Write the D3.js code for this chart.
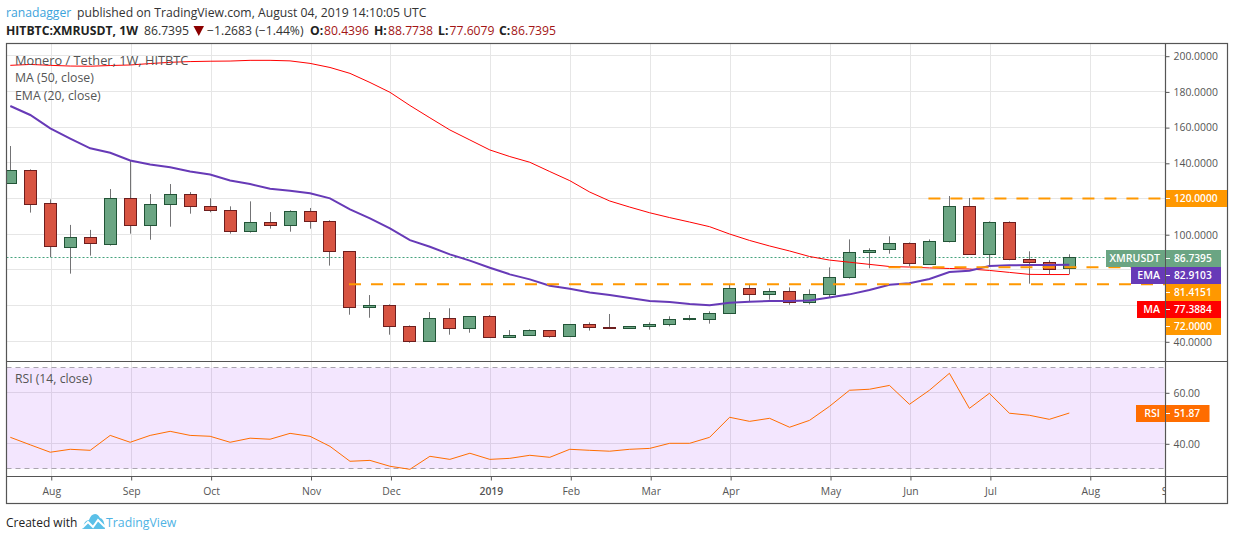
<!DOCTYPE html>
<html>
<head>
<meta charset="utf-8">
<title>XMRUSDT</title>
<script src="https://cdnjs.cloudflare.com/ajax/libs/d3/7.8.5/d3.min.js"></script>
<style>
	html, body { margin: 0; padding: 0; background: #fff; }
	svg { display: block; }
	text { font-family: "Open Sans", sans-serif; }
</style>
</head>
<body>
<div id="chart"></div>
<script>
"use strict";

// weekly candles
const opens = [128.5, 135.8, 117.3, 92.6, 98.3, 94.3, 120.1, 105, 116.7, 122.3, 115.6, 113.4, 101.6, 106.6, 105, 112.8, 107.2, 90.4, 59, 60.1,
	48.4, 40, 52.8, 47.3, 54, 42.2, 43.3, 46.1, 42.8, 49.5, 47.8, 47.3, 48.4, 49.5, 52.3, 52.3, 55.7, 69.7, 66.3, 68,
	61.8, 66.3, 75.8, 89.8, 91.5, 94.9, 83.1, 96, 115.6, 88.7, 106.6, 85.9, 84.2, 80.44];
const highs = [149.4, 136.3, 119.5, 105.2, 102.4, 125.3, 141.6, 122.5, 128.1, 123.6, 120.1, 115.6, 118.4, 112.4, 113.4, 114.7, 107.8, 90.4, 65.9, 60.7,
	48.9, 56.4, 58.5, 54, 54.7, 46.3, 46.7, 46.1, 49.5, 50.6, 55.3, 48.4, 50.6, 54, 54.7, 56.8, 71.9, 71.9, 69.7, 70.2,
	69.1, 81.4, 97.1, 92.1, 98.8, 95.4, 97.1, 121.4, 120.3, 107.2, 107.2, 90.4, 85.4, 88.77];
const lows = [128.5, 112.1, 87.2, 77.9, 88, 93.6, 100.3, 96.9, 104.2, 111.5, 112.3, 100.3, 100.9, 103.1, 101.4, 103.1, 82.4, 54.9, 53.2, 43.7,
	39.2, 40, 43.7, 44.8, 42.2, 42.2, 43.3, 42, 42.8, 46, 47.3, 47.3, 46.5, 48.4, 51.7, 49.9, 55.7, 62.4, 63.3, 60.5,
	60.7, 64.6, 75.1, 80.9, 89.1, 82, 83.1, 95.4, 88.7, 82.6, 85.4, 72.3, 77.3, 77.61];
const closes = [135.8, 116.7, 93.2, 98.3, 94.9, 120.1, 105, 116.7, 122.3, 115.6, 113.4, 101.6, 106.6, 105, 112.8, 107.2, 90.4, 59, 60.1, 48.4,
	40, 52.8, 47.3, 54, 42.2, 43.3, 46.1, 42.8, 49.5, 47.8, 47.3, 48.4, 49.5, 52.3, 52.5, 55.7, 69.7, 66.3, 68, 61.8,
	66.3, 75.8, 89.8, 91, 94.9, 83.7, 96, 115.6, 88.7, 106.6, 85.9, 84.2, 80.3, 86.74];

const ma50 = [194.6, 195.1, 194.6, 194.2, 194.1, 194.5, 194.8, 195.6, 196.3, 196.7, 196.9, 197, 197.4, 197.4, 197.1, 195.7, 193.4, 190.1, 185, 179.5,
	172.1, 165.2, 158.4, 152.8, 147.2, 143.5, 140.3, 135.1, 130, 123.6, 118.6, 115.2, 112, 109.3, 106.8, 104.2, 100.1, 96.5, 93.4, 90.6,
	87.5, 85.5, 84.3, 83.1, 81.9, 81.6, 81.1, 80.8, 80.5, 79.7, 78.6, 77.5, 77.4, 77.39];
const ema20 = [171.8, 166.8, 159.3, 153.6, 148.1, 145.6, 141.3, 139, 137.5, 135.1, 133.4, 130.1, 128.1, 125.5, 124.4, 122.9, 120.1, 113.9, 108.9, 103.3,
	96.7, 93, 88.7, 85.2, 81.2, 77.5, 74.7, 71.1, 69.5, 67.4, 65.9, 64.3, 62.6, 62, 60.9, 60.2, 61.6, 62.2, 62.6, 62.6,
	62.8, 64.6, 66.3, 68.7, 71.7, 72.5, 74.9, 78.8, 79.5, 82.2, 82.6, 82.7, 82.7, 82.91];
const rsi14 = [42.35, 39.4, 36.5, 37.65, 37.25, 43.1, 40.4, 43.1, 44.7, 43.1, 42.75, 40.4, 42, 41.6, 43.9, 42.75, 38.8, 32.95, 33.3, 31,
	29.8, 34.9, 33.7, 36.1, 33.7, 34.1, 35.3, 34.5, 37.65, 37.25, 36.9, 37.65, 38, 40, 40, 42.35, 50.2, 48.6, 49.8, 46.3,
	49, 54.5, 60.8, 61.2, 62.7, 55.3, 60.8, 67.45, 53.7, 59.6, 51.8, 51, 49.4, 51.87];

const priceTicks = [200, 180, 160, 140, 120, 100, 80, 60, 40];
const priceLabels = [200, 180, 160, 140, 100, 40];
const rsiTicks = [60, 40];
const monthLabels = ["Aug", "Sep", "Oct", "Nov", "Dec", "2019", "Feb", "Mar", "Apr", "May", "Jun", "Jul", "Aug", "Sep"];
const monthBars = [2, 6, 10, 15, 19, 24, 28, 32, 36, 41, 45, 49, 54, 58];

// the hand drawn levels: [price, first bar]
const levels = [[120, 46], [81.4151, 44], [72, 17]];

const lastPrice = 86.7395;

const W = 1234, H = 540;
const paneL = 6.5, paneR = 1165.5, paneT = 43.5, split = 361, axisY = 476.5, bottom = 503.5, outerR = 1227.5;

const UP = "#6ba583", DOWN = "#d75442", UP_EDGE = "#225437", DOWN_EDGE = "#6d1e1e";
const ORANGE = "#ff9800", PURPLE = "#673ab7", RED = "#ff0000", RSI_COL = "#ff6d00";
const AXIS_COL = "#555", TEXT_COL = "#555";

const x = d3.scaleLinear().domain([0, 53]).range([10.3, 1069.3]);
const y = d3.scaleLinear().domain([40, 200]).range([341.3, 55.7]);
const yRsi = d3.scaleLinear().domain([30, 70]).range([468.8, 366.8]);

const snap = v => Math.floor(v) + 0.5;

const svg = d3.select("#chart").append("svg")
	.attr("width", W)
	.attr("height", H)
	.attr("viewBox", `0 0 ${W} ${H}`);

const defs = svg.append("defs");
defs.append("clipPath").attr("id", "paneClip").append("rect")
	.attr("x", paneL).attr("y", paneT).attr("width", paneR - paneL).attr("height", split - paneT);
defs.append("clipPath").attr("id", "rsiClip").append("rect")
	.attr("x", paneL).attr("y", split).attr("width", paneR - paneL).attr("height", axisY - split);
defs.append("clipPath").attr("id", "timeClip").append("rect")
	.attr("x", paneL).attr("y", axisY).attr("width", paneR - paneL).attr("height", bottom - axisY);

// header
const head1 = svg.append("g").attr("font-size", 12.2).attr("fill", "#333");
head1.append("text").attr("x", 6).attr("y", 17).attr("fill", "#3ca3dc").text("ranadagger");
head1.append("text").attr("x", 77).attr("y", 17)
	.text("published on TradingView.com, August 04, 2019 14:10:05 UTC");

const headPieces = [
	[6, "HITBTC:XMRUSDT, 1W", true, "#222"],
	[144, "86.7395", false, "#333"],
	[207, "\u22121.2683 (\u22121.44%)", false, "#333"],
	[310, "O:", true, "#222"],
	[324, "80.4396", false, "#a31515"],
	[374, "H:", true, "#222"],
	[388, "88.7738", false, "#a31515"],
	[438, "L:", true, "#222"],
	[449.5, "77.6079", false, "#a31515"],
	[499, "C:", true, "#222"],
	[511, "86.7395", false, "#a31515"]
];
svg.append("g").selectAll("text").data(headPieces).enter().append("text")
	.attr("x", d => d[0])
	.attr("y", 34.5)
	.attr("font-size", 12.2)
	.attr("font-weight", d => d[2] ? 700 : 400)
	.attr("fill", d => d[3])
	.text(d => d[1]);
svg.append("path").attr("d", "M193.5 26H204L198.8 36Z").attr("fill", "#8b0000");

// grid
const grid = svg.append("g").attr("stroke", "#e6e6e6").attr("stroke-width", 1);
grid.selectAll(".priceGrid").data(priceTicks).enter().append("line")
	.attr("x1", paneL).attr("x2", paneR)
	.attr("y1", d => snap(y(d))).attr("y2", d => snap(y(d)));
grid.selectAll(".rsiGrid").data(rsiTicks).enter().append("line")
	.attr("x1", paneL).attr("x2", paneR)
	.attr("y1", d => snap(yRsi(d))).attr("y2", d => snap(yRsi(d)));
monthBars.forEach(b => {
	if (x(b) + 1 > paneR) return;
	grid.append("line").attr("x1", snap(x(b) + 1)).attr("x2", snap(x(b) + 1)).attr("y1", paneT).attr("y2", split);
	grid.append("line").attr("x1", snap(x(b) + 1)).attr("x2", snap(x(b) + 1)).attr("y1", split).attr("y2", axisY);
});

// rsi band
svg.append("rect")
	.attr("x", paneL).attr("width", paneR - paneL - 1)
	.attr("y", yRsi(69.6)).attr("height", yRsi(30) - yRsi(69.6))
	.attr("fill", "rgb(135,5,245)").attr("fill-opacity", 0.1);
[69.6, 30].forEach(v => {
	svg.append("line")
		.attr("x1", paneL).attr("x2", paneR - 1)
		.attr("y1", snap(yRsi(v))).attr("y2", snap(yRsi(v)))
		.attr("stroke", "#a9a4ae").attr("stroke-dasharray", "5 4");
});

// main pane
const pane = svg.append("g").attr("clip-path", "url(#paneClip)");

pane.append("line")
	.attr("x1", paneL).attr("x2", paneR)
	.attr("y1", snap(y(lastPrice))).attr("y2", snap(y(lastPrice)))
	.attr("stroke", "#45a37d").attr("stroke-dasharray", "2 2");

const line = d3.line().x((d, i) => x(i)).y(d => y(d));

const bars = d3.range(opens.length);

pane.selectAll(".wick").data(bars).enter().append("line")
	.attr("class", "wick")
	.attr("x1", i => snap(x(i))).attr("x2", i => snap(x(i)))
	.attr("y1", i => y(highs[i])).attr("y2", i => y(lows[i]))
	.attr("stroke", "#737375");

pane.selectAll(".body").data(bars).enter().append("rect")
	.attr("class", "body")
	.attr("x", i => snap(x(i)) - 6)
	.attr("width", 12)
	.attr("y", i => snap(y(Math.max(opens[i], closes[i]))))
	.attr("height", i => Math.max(1, Math.round(Math.abs(y(opens[i]) - y(closes[i])))))
	.attr("fill", i => closes[i] >= opens[i] ? UP : DOWN)
	.attr("stroke", i => closes[i] >= opens[i] ? UP_EDGE : DOWN_EDGE);

pane.append("path").attr("d", line(ma50))
	.attr("fill", "none").attr("stroke", RED).attr("stroke-width", 1);
pane.append("path").attr("d", line(ema20))
	.attr("fill", "none").attr("stroke", PURPLE).attr("stroke-width", 2);

pane.selectAll(".level").data(levels).enter().append("line")
	.attr("class", "level")
	.attr("x1", d => x(d[1]) - 1).attr("x2", paneR)
	.attr("y1", d => y(d[0])).attr("y2", d => y(d[0]))
	.attr("stroke", ORANGE).attr("stroke-width", 2).attr("stroke-dasharray", "12 10");

// rsi pane
svg.append("g").attr("clip-path", "url(#rsiClip)").append("path")
	.attr("d", d3.line().x((d, i) => x(i)).y(d => yRsi(d))(rsi14))
	.attr("fill", "none").attr("stroke", RSI_COL).attr("stroke-width", 1);

// legends
const legend = svg.append("g").attr("fill", TEXT_COL);
legend.append("text").attr("x", 15).attr("y", 65).attr("font-size", 12.8).text("Monero / Tether, 1W, HITBTC");
legend.append("text").attr("x", 15).attr("y", 82).attr("font-size", 12.3).text("MA (50, close)");
legend.append("text").attr("x", 15).attr("y", 99.5).attr("font-size", 12.3).text("EMA (20, close)");
legend.append("text").attr("x", 15).attr("y", 382.5).attr("font-size", 12.2).text("RSI (14, close)");

// axes
const styleAxis = g => {
	g.select(".domain").remove();
	g.selectAll("line").attr("stroke", AXIS_COL);
	g.selectAll("text").attr("fill", TEXT_COL).attr("font-size", 10.4).attr("font-family", '"Open Sans", sans-serif');
};

svg.append("g")
	.attr("transform", `translate(${paneR},0.5)`)
	.call(d3.axisRight(y).tickValues(priceLabels).tickSize(4).tickPadding(4).tickFormat(d3.format(".4f")))
	.call(styleAxis);

svg.append("g")
	.attr("transform", `translate(${paneR},0.5)`)
	.call(d3.axisRight(yRsi).tickValues(rsiTicks).tickSize(4).tickPadding(4).tickFormat(d3.format(".2f")))
	.call(styleAxis);

const timeAxis = svg.append("g")
	.attr("clip-path", "url(#timeClip)")
	.append("g")
	.attr("transform", `translate(1,${axisY})`)
	.call(d3.axisBottom(x).tickValues(monthBars).tickSize(4).tickPadding(6)
		.tickFormat(b => monthLabels[monthBars.indexOf(b)]))
	.call(styleAxis);
timeAxis.selectAll("text")
	.attr("y", 11)
	.attr("font-weight", d => d === 24 ? 600 : 400);

// frame
svg.append("rect")
	.attr("x", paneL).attr("y", paneT).attr("width", outerR - paneL).attr("height", bottom - paneT)
	.attr("fill", "none").attr("stroke", AXIS_COL).attr("stroke-width", 1.2);
[[paneL, outerR, split + 0.5, split + 0.5], [paneL, outerR, axisY, axisY], [paneR, paneR, paneT, bottom]].forEach(d => {
	svg.append("line")
		.attr("x1", d[0]).attr("x2", d[1]).attr("y1", d[2]).attr("y2", d[3])
		.attr("stroke", AXIS_COL).attr("stroke-width", 1.2);
});

// price tags
const tags = [
	[120, "120.0000", ORANGE, null, null, 190, 1227],
	[lastPrice, "86.7395", UP, 1106, "XMRUSDT", 250, 1221],
	[82.9103, "82.9103", PURPLE, 1131, "EMA", 267, 1221],
	[81.4151, "81.4151", ORANGE, null, null, 284, 1221],
	[77.3884, "77.3884", RED, 1137, "MA", 301, 1221],
	[72, "72.0000", ORANGE, null, null, 318, 1221],
	[51.87, "51.87", RSI_COL, 1136, "RSI", 405, 1209.5]
];
const tag = svg.append("g").selectAll("g").data(tags).enter().append("g");
tag.append("rect")
	.attr("x", 1166).attr("y", d => d[5])
	.attr("width", d => d[6] - 1166).attr("height", 17)
	.attr("fill", d => d[2]);
tag.filter(d => d[3] !== null).append("rect")
	.attr("x", d => d[3]).attr("y", d => d[5])
	.attr("width", d => 1165 - d[3]).attr("height", 17)
	.attr("fill", d => d[2]);
tag.append("line")
	.attr("x1", 1166).attr("x2", 1170)
	.attr("y1", d => d[5] + 8.5).attr("y2", d => d[5] + 8.5)
	.attr("stroke", "#fff");
tag.append("text")
	.attr("x", 1174).attr("y", d => d[5] + 12.4)
	.attr("font-size", 10.2).attr("font-weight", 600).attr("fill", "#fff")
	.text(d => d[1]);
tag.filter(d => d[3] !== null).append("text")
	.attr("x", 1160).attr("y", d => d[5] + 12.4)
	.attr("text-anchor", "end")
	.attr("font-size", 10.6).attr("font-weight", 600).attr("fill", "#fff")
	.text(d => d[4]);

// footer
svg.append("text").attr("x", 6).attr("y", 527).attr("font-size", 12).attr("fill", "#222").text("Created with");
const logo = svg.append("g").attr("transform", "translate(82,514)");
logo.append("path")
	.attr("d", "M0 15 L3 8 Q5 6 7 6 Q9 0 13 0 Q16 0 18 4 Q22 4 23 15 Z")
	.attr("fill", "#5bc0e8");
logo.append("path")
	.attr("d", "M0 14 L6 8 L11 13 L16 6 L23 13")
	.attr("fill", "none").attr("stroke", "#fff").attr("stroke-width", 2);
svg.append("text").attr("x", 106).attr("y", 527).attr("font-size", 12.3).attr("fill", "#4fb3e4").text("TradingView");
</script>
</body>
</html>
